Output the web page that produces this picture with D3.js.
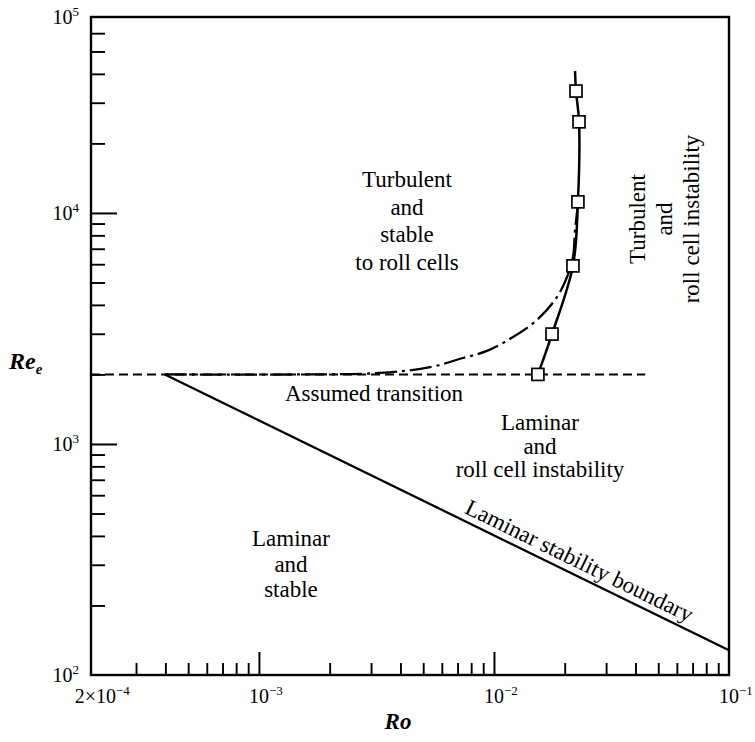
<!DOCTYPE html>
<html><head><meta charset="utf-8">
<script src="https://cdn.jsdelivr.net/npm/d3@7"></script>
<style>body{margin:0;background:#fff}svg{display:block}</style>
</head><body><svg id="c" width="755" height="742"></svg>
<script>
// ---- data ----
const roDomain = [1.93e-4, 0.1];
const reDomain = [100, 7.05e4];
const xMajorTicks = [2e-4, 1e-3, 1e-2, 1e-1];
const xMajorLabels = [["2×10", "−4"], ["10", "−3"], ["10", "−2"], ["10", "−1"]];
const xMinorTicks = [3e-4,4e-4,5e-4,6e-4,7e-4,8e-4,9e-4,2e-3,3e-3,4e-3,5e-3,6e-3,7e-3,8e-3,9e-3,2e-2,3e-2,4e-2,5e-2,6e-2,7e-2,8e-2,9e-2];
const yMajorTicks = [1e2, 1e3, 1e4, 7.05e4];
const yMajorLabels = [["10","2"],["10","3"],["10","4"],["10","5"]];
const yMinorTicks = [200,300,400,500,600,700,800,900,2000,3000,4000,5000,6000,7000,8000,9000,2e4,3e4,4e4,5e4,6e4];

// assumed transition (dashed)
const transitionRo = [1.93e-4, 0.044];
const transitionRe = [2000, 2000];
// laminar stability boundary (solid straight)
const stabilityRo = [3.98e-4, 0.1];
const stabilityRe = [2000, 128];
// predicted onset (dash-dot)
const predictedRo = [3.98e-4, 1.5e-3, 3.27e-3, 5.35e-3, 7.38e-3, 9.33e-3, 0.01205, 0.01524, 0.01854, 0.02046, 0.02169, 0.02213, 0.02276];
const predictedRe = [2000, 2000, 2030, 2150, 2356, 2528, 2903, 3443, 4325, 5280, 6450, 8430, 10840];
// measured roll-cell boundary (solid through squares)
const measuredRo = [0.01538, 0.01766, 0.02168, 0.02276, 0.02301, 0.02234];
const measuredRe = [2000, 2990, 5900, 11170, 24800, 33700];
const measuredEndRo = 0.02213, measuredEndRe = 41200;

// ---- layout ----
const svg = d3.select("#c");
const L = 91, R = 729, T = 17, B = 675;
const x = d3.scaleLog().domain(roDomain).range([L, R]);
const y = d3.scaleLog().domain(reDomain).range([B, T]);
const FONT = "'Liberation Serif','Times New Roman',serif";

// ticks via axes
svg.append("g").attr("transform", `translate(0,${B})`)
  .call(d3.axisBottom(x).tickValues(xMinorTicks).tickSize(-12).tickFormat(""))
  .call(g => { g.select(".domain").remove(); g.selectAll("line").attr("stroke-width", 1.9); });
svg.append("g").attr("transform", `translate(0,${B})`)
  .call(d3.axisBottom(x).tickValues([1e-3, 1e-2]).tickSize(-23).tickFormat(""))
  .call(g => { g.select(".domain").remove(); g.selectAll("line").attr("stroke-width", 2); });
svg.append("g").attr("transform", `translate(${L},0)`)
  .call(d3.axisLeft(y).tickValues(yMinorTicks).tickSize(-14).tickFormat(""))
  .call(g => { g.select(".domain").remove(); g.selectAll("line").attr("stroke-width", 1.9); });
svg.append("g").attr("transform", `translate(${L},0)`)
  .call(d3.axisLeft(y).tickValues([1e3, 1e4]).tickSize(-26).tickFormat(""))
  .call(g => { g.select(".domain").remove(); g.selectAll("line").attr("stroke-width", 2); });

// frame
svg.append("rect").attr("x", L).attr("y", T).attr("width", R - L).attr("height", B - T)
  .attr("fill", "none").attr("stroke", "#000").attr("stroke-width", 2.4);

// tick labels
xMajorTicks.forEach((v, i) => {
  const [base, exp] = xMajorLabels[i];
  const off = i === 0 ? 20 : 10;
  const t = svg.append("text").attr("x", x(v) - off).attr("y", 703)
    .attr("font-family", FONT).attr("font-size", 20).attr("fill", "#000");
  t.append("tspan").text(base);
  t.append("tspan").attr("dy", -8).attr("font-size", 13).text(exp);
});
yMajorTicks.forEach((v, i) => {
  const [base, exp] = yMajorLabels[i];
  const t = svg.append("text").attr("x", 79).attr("y", y(v) + 7).attr("text-anchor", "end")
    .attr("font-family", FONT).attr("font-size", 20).attr("fill", "#000");
  t.append("tspan").text(base);
  t.append("tspan").attr("dy", -8).attr("font-size", 13).text(exp);
});

// axis titles
const reT = svg.append("text").attr("x", 9).attr("y", 369)
  .attr("font-family", FONT).attr("font-size", 24).attr("font-weight", "bold").attr("font-style", "italic");
reT.append("tspan").text("Re");
reT.append("tspan").attr("dy", 5).attr("font-size", 15).text("e");
svg.append("text").attr("x", 398).attr("y", 729).attr("text-anchor", "middle")
  .attr("font-family", FONT).attr("font-size", 23).attr("font-weight", "bold").attr("font-style", "italic")
  .text("Ro");

// lines
const zip = (a, b) => a.map((d, i) => [d, b[i]]);
const line = d3.line().x(d => x(d[0])).y(d => y(d[1]));
const lineC = d3.line().x(d => x(d[0])).y(d => y(d[1])).curve(d3.curveCatmullRom.alpha(0.5));

svg.append("path").attr("d", line(zip(transitionRo, transitionRe)))
  .attr("fill", "none").attr("stroke", "#000").attr("stroke-width", 1.9).attr("stroke-dasharray", "9,5");
svg.append("path").attr("d", line(zip(stabilityRo, stabilityRe)))
  .attr("fill", "none").attr("stroke", "#000").attr("stroke-width", 2.3);
svg.append("path").attr("d", lineC(zip(predictedRo, predictedRe)))
  .attr("fill", "none").attr("stroke", "#000").attr("stroke-width", 2.3).attr("stroke-dasharray", "22,5,3,5");
const measuredPts = zip(measuredRo, measuredRe).concat([[measuredEndRo, measuredEndRe]]);
svg.append("path").attr("d", lineC(measuredPts))
  .attr("fill", "none").attr("stroke", "#000").attr("stroke-width", 2.5);
svg.selectAll("rect.pt").data(zip(measuredRo, measuredRe)).join("rect").attr("class", "pt")
  .attr("x", d => x(d[0]) - 6).attr("y", d => y(d[1]) - 6).attr("width", 12).attr("height", 12)
  .attr("fill", "#fff").attr("stroke", "#000").attr("stroke-width", 1.7);

// region labels
function block(lines, cx, y0, dy) {
  const t = svg.append("text").attr("text-anchor", "middle")
    .attr("font-family", FONT).attr("font-size", 23).attr("fill", "#000");
  lines.forEach((s, i) => t.append("tspan").attr("x", cx).attr("y", y0 + i * dy).text(s));
}
block(["Turbulent", "and", "stable", "to roll cells"], 407, 187, 27.5);
block(["Assumed transition"], 374, 401, 24);
block(["Laminar", "and", "roll cell instability"], 540, 430, 23.5);
block(["Laminar", "and", "stable"], 291, 546, 25.5);

// vertical label
[["Turbulent", 645], ["and", 672], ["roll cell instability", 699]].forEach(([s, bx]) => {
  svg.append("text").attr("text-anchor", "middle").attr("font-family", FONT).attr("font-size", 23)
    .attr("transform", `translate(${bx},219) rotate(-90)`).text(s);
});

// rotated boundary label
const p0 = [x(stabilityRo[0]), y(stabilityRe[0])], p1 = [x(stabilityRo[1]), y(stabilityRe[1])];
const ang = Math.atan2(p1[1] - p0[1], p1[0] - p0[0]) * 180 / Math.PI;
const lx = 573, ly = p0[1] + (lx - p0[0]) * (p1[1] - p0[1]) / (p1[0] - p0[0]);
svg.append("text").attr("text-anchor", "middle").attr("font-family", FONT).attr("font-size", 23)
  .attr("transform", `translate(${lx},${ly}) rotate(${ang})`).attr("dy", -7)
  .text("Laminar stability boundary");
</script></body></html>
